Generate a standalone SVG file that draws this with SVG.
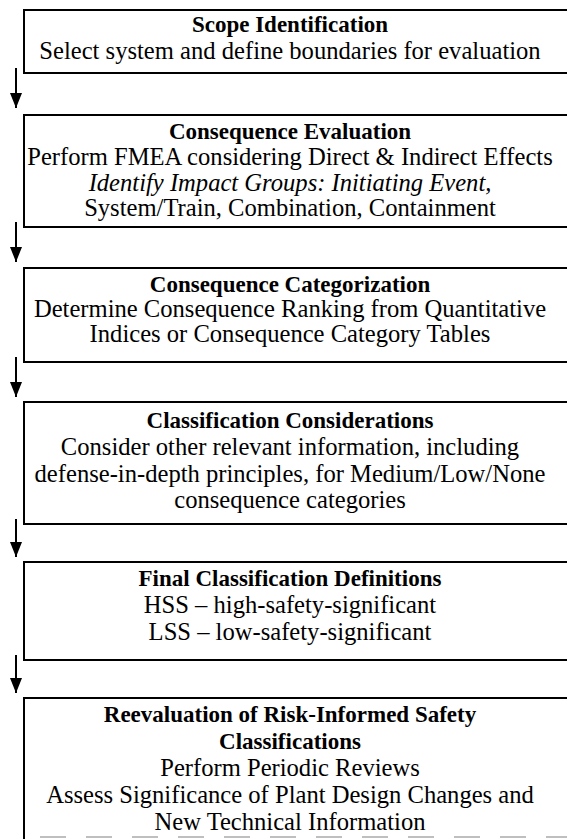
<svg xmlns="http://www.w3.org/2000/svg" width="567" height="839" viewBox="0 0 567 839">
<style>
.box{fill:none;stroke:#000;stroke-width:2}
.t{font-family:"Liberation Serif","Times New Roman",serif;font-size:24.6px;fill:#000;text-anchor:middle}
.b{font-weight:bold;font-size:23px}
.i{font-style:italic}
.c{stroke:#000;stroke-width:2;fill:none}
</style>
<defs>
<marker id="ah" viewBox="0 0 15 12" refX="15" refY="6" markerWidth="15" markerHeight="12" markerUnits="userSpaceOnUse" orient="auto">
<path d="M0,0 L15,6 L0,12 Z" fill="#000"/>
</marker>
</defs>
<g id="n1">
<rect class="box" x="24" y="10" width="560" height="63"/>
<text class="t b" x="290" y="32">Scope Identification</text>
<text class="t" x="290" y="59">Select system and define boundaries for evaluation</text>
</g>
<g id="n2">
<rect class="box" x="24" y="115" width="560" height="112"/>
<text class="t b" x="290" y="139">Consequence Evaluation</text>
<text class="t" x="290" y="165">Perform FMEA considering Direct &amp; Indirect Effects</text>
<text class="t i" x="290" y="191">Identify Impact Groups: Initiating Event,</text>
<text class="t" x="290" y="216">System/Train, Combination, Containment</text>
</g>
<g id="n3">
<rect class="box" x="24" y="268" width="560" height="94"/>
<text class="t b" x="290" y="292">Consequence Categorization</text>
<text class="t" x="290" y="317">Determine Consequence Ranking from Quantitative</text>
<text class="t" x="290" y="342">Indices or Consequence Category Tables</text>
</g>
<g id="n4">
<rect class="box" x="24" y="402" width="560" height="122"/>
<text class="t b" x="290" y="428">Classification Considerations</text>
<text class="t" x="290" y="455">Consider other relevant information, including</text>
<text class="t" x="290" y="482">defense-in-depth principles, for Medium/Low/None</text>
<text class="t" x="290" y="508">consequence categories</text>
</g>
<g id="n5">
<rect class="box" x="24" y="562" width="560" height="98"/>
<text class="t b" x="290" y="586">Final Classification Definitions</text>
<text class="t" x="290" y="613">HSS – high-safety-significant</text>
<text class="t" x="290" y="640">LSS – low-safety-significant</text>
</g>
<g id="n6">
<path class="box" d="M24,840 V698 H584"/>
<line x1="40" y1="837" x2="567" y2="837" stroke="#aaa" stroke-width="1.5" stroke-dasharray="26,20"/>
<text class="t b" x="290" y="722">Reevaluation of Risk-Informed Safety</text>
<text class="t b" x="290" y="749">Classifications</text>
<text class="t" x="290" y="776">Perform Periodic Reviews</text>
<text class="t" x="290" y="803">Assess Significance of Plant Design Changes and</text>
<text class="t" x="290" y="830">New Technical Information</text>
</g>
<g id="connectors">
<line class="c" x1="16" y1="68" x2="16" y2="108" marker-end="url(#ah)"/>
<line class="c" x1="16" y1="222" x2="16" y2="262" marker-end="url(#ah)"/>
<line class="c" x1="16" y1="357" x2="16" y2="397" marker-end="url(#ah)"/>
<line class="c" x1="16" y1="519" x2="16" y2="557" marker-end="url(#ah)"/>
<line class="c" x1="16" y1="655" x2="16" y2="693" marker-end="url(#ah)"/>
</g>
</svg>
